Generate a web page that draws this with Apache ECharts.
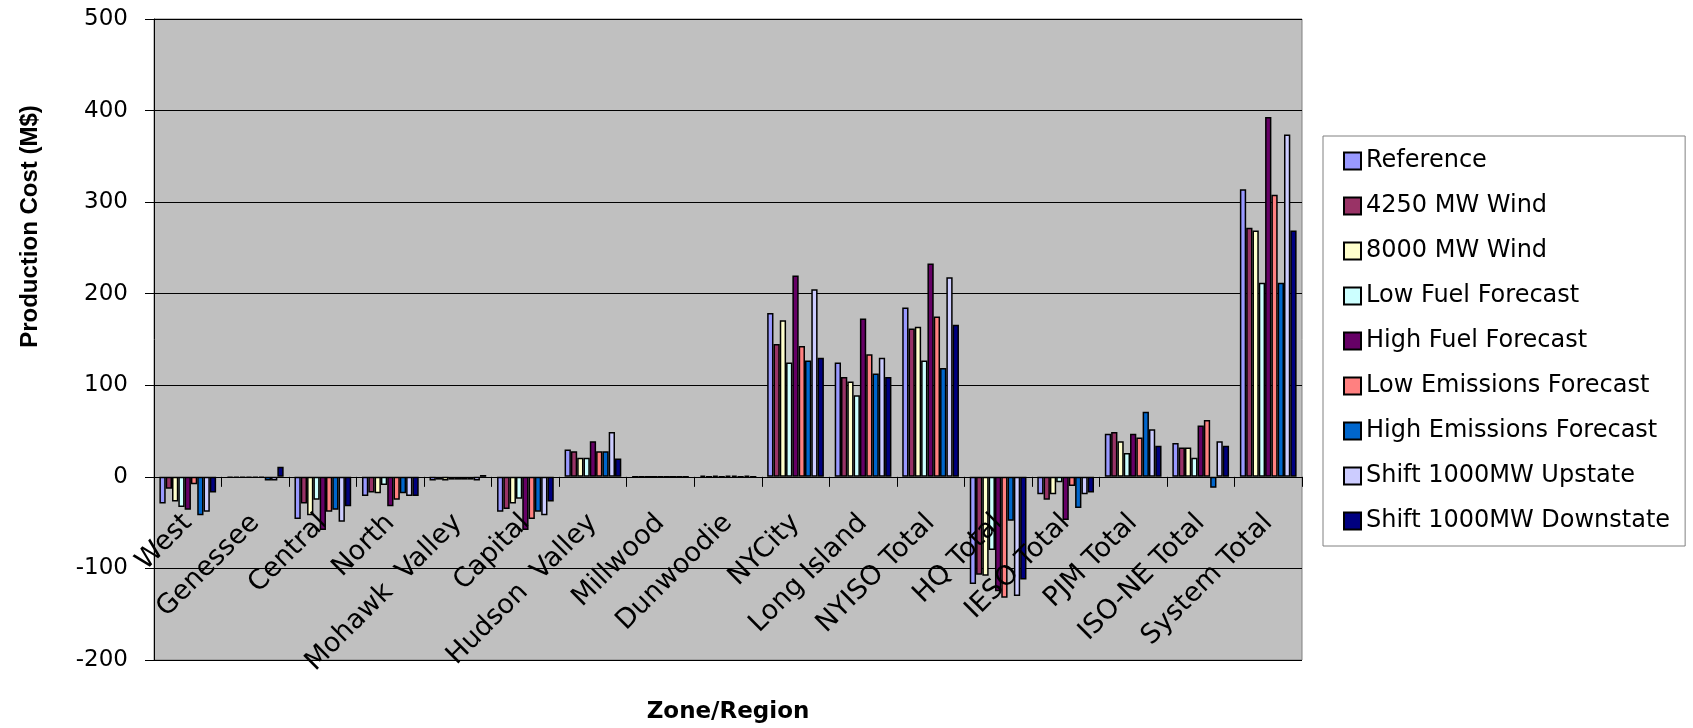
<!DOCTYPE html>
<html>
<head>
<meta charset="utf-8">
<title>Production Cost by Zone/Region</title>
<script src="https://cdn.jsdelivr.net/npm/echarts@6/dist/echarts.min.js"></script>
<style>
  html, body { margin: 0; padding: 0; background: #fff; }
  #chart { width: 1693px; height: 728px; }
</style>
</head>
<body>
<div id="chart"></div>
<script>
// zones / regions on the x axis
const zones = ['West', 'Genessee', 'Central', 'North', 'Mohawk  Valley', 'Capital', 'Hudson  Valley',
  'Millwood', 'Dunwoodie', 'NYCity', 'Long Island', 'NYISO Total', 'HQ Total', 'IESO Total',
  'PJM Total', 'ISO-NE Total', 'System Total'];

// production cost change (M$) per case
const reference      = [-29, -1, -46, -21, -4, -38, 30, 0, 1.5, 179, 125, 185, -117, -19, 47, 37, 314];
const wind4250       = [-13, -1, -29, -17, -3, -35, 28, 0, 0, 145, 109, 162, -107, -25, 49, 32, 272];
const wind8000       = [-27, -1, -42, -18, -4, -29, 21, 0, 1.5, 171, 104, 164, -108, -19, 39, 32, 269];
const lowFuel        = [-33, -1, -25, -9, -3, -24, 21, 0, 0, 125, 89, 127, -80, -6, 26, 21, 212];
const highFuel       = [-36, -1, -58, -32, -3, -58, 39, 0, 1.5, 220, 173, 233, -125, -47, 47, 56, 393];
const lowEmissions   = [-8, -1, -38, -25, -3, -46, 28, 0, 1.5, 143, 134, 175, -132, -10, 43, 62, 308];
const highEmissions  = [-42, -4, -36, -18, -3, -38, 28, 0, 0, 127, 113, 119, -48, -34, 71, -12, 212];
const shiftUpstate   = [-38, -4, -49, -21, -4, -42, 49, 0, 1.5, 205, 130, 218, -130, -19, 52, 39, 374];
const shiftDownstate = [-17, 11, -32, -21, 2, -27, 20, 0, 0, 130, 109, 166, -112, -17, 34, 34, 269];

// y axis ticks
const yMin = -200;
const yMax = 500;
const yStep = 100;

const cases = [
  { name: 'Reference', data: reference, color: '#9999FF' },
  { name: '4250 MW Wind', data: wind4250, color: '#993366' },
  { name: '8000 MW Wind', data: wind8000, color: '#FFFFCC' },
  { name: 'Low Fuel Forecast', data: lowFuel, color: '#CCFFFF' },
  { name: 'High Fuel Forecast', data: highFuel, color: '#660066' },
  { name: 'Low Emissions Forecast', data: lowEmissions, color: '#FF8080' },
  { name: 'High Emissions Forecast', data: highEmissions, color: '#0066CC' },
  { name: 'Shift 1000MW Upstate', data: shiftUpstate, color: '#CCCCFF' },
  { name: 'Shift 1000MW Downstate', data: shiftDownstate, color: '#000080' }
];

const font = 'DejaVu Sans';
const gridTop = 19;
const gridBottom = 68;
const plotHeight = 728 - gridTop - gridBottom;
// the category axis sits on the zero line (labels and ticks with it)
const zeroOffset = -plotHeight * (0 - yMin) / (yMax - yMin);

const chart = echarts.init(document.getElementById('chart'));

const option = {
  animation: false,
  backgroundColor: '#ffffff',
  grid: {
    left: 154,
    right: 391,
    top: gridTop,
    bottom: gridBottom,
    containLabel: false,
    outerBoundsMode: 'none',
    show: true,
    backgroundColor: '#C0C0C0',
    borderColor: '#808080',
    borderWidth: 1
  },
  legend: {
    orient: 'vertical',
    left: 1323,
    top: 136,
    padding: [13, 15, 13, 20],
    itemWidth: 17,
    itemHeight: 17,
    itemGap: 21,
    icon: 'rect',
    backgroundColor: '#ffffff',
    borderColor: '#808080',
    borderWidth: 1,
    textStyle: { fontFamily: font, fontSize: 24, color: '#000' },
    data: cases.map(c => c.name)
  },
  xAxis: {
    type: 'category',
    data: zones,
    position: 'bottom',
    offset: zeroOffset,
    z: 5,
    name: 'Zone/Region',
    nameLocation: 'middle',
    nameGap: 224,
    nameTextStyle: { fontFamily: font, fontSize: 23, fontWeight: 'bold', color: '#000' },
    axisLine: { onZero: false, lineStyle: { color: '#000', width: 1 } },
    axisTick: { show: true, length: 10, interval: 0, lineStyle: { color: '#000' } },
    axisLabel: {
      interval: 0,
      rotate: 45,
      margin: 42,
      fontFamily: font,
      fontSize: 27,
      color: '#000'
    },
    splitLine: { show: false }
  },
  yAxis: {
    type: 'value',
    min: yMin,
    max: yMax,
    interval: yStep,
    name: 'Production Cost (M$)',
    nameLocation: 'middle',
    nameGap: 112,
    nameTextStyle: {
      fontFamily: 'Liberation Sans',
      fontSize: 24,
      fontWeight: 'bold',
      color: '#000',
      padding: [0, 0, 0, 226]
    },
    axisLine: { show: true, lineStyle: { color: '#000', width: 1 } },
    axisTick: { show: true, length: 9, lineStyle: { color: '#000' } },
    axisLabel: { margin: 26, fontFamily: font, fontSize: 23, color: '#000' },
    splitLine: { show: true, lineStyle: { color: '#000', width: 1 } }
  },
  series: cases.map(c => ({
    name: c.name,
    type: 'bar',
    data: c.data,
    barGap: '0%',
    barCategoryGap: '16%',
    itemStyle: { color: c.color, borderColor: '#000', borderWidth: 1.5 }
  }))
};

chart.setOption(option);
</script>
</body>
</html>
